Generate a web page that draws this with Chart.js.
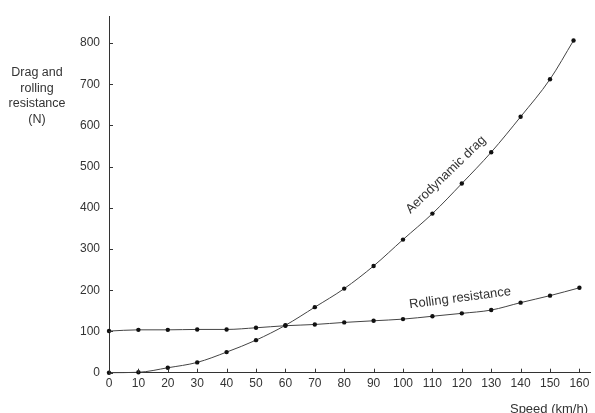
<!DOCTYPE html>
<html>
<head>
<meta charset="utf-8">
<script src="https://cdn.jsdelivr.net/npm/chart.js@4"></script>
<style>
  html, body { margin: 0; padding: 0; background: #fff; }
  #wrap { width: 595px; height: 413px; }
</style>
</head>
<body>
<div id="wrap"><canvas id="myChart" width="595" height="413"></canvas></div>
<script>
// speeds in km/h
const rollSpeed = [0, 10, 20, 30, 40, 50, 60, 70, 80, 90, 100, 110, 120, 130, 140, 150, 160];
const rollForce = [101, 104, 104, 105, 105, 109, 114, 117, 122, 126, 130, 137, 144, 152, 170, 187, 206];
const dragSpeed = [0, 10, 20, 30, 40, 50, 60, 70, 80, 90, 100, 110, 120, 130, 140, 150, 158];
const dragForce = [0, 1, 12, 25, 50, 79, 115, 159, 204, 259, 323, 386, 459, 535, 621, 712, 806];

const FONT = "'Liberation Sans', Arial, sans-serif";
const INK = "#333";

function toPoints(xs, ys) {
  return xs.map((x, i) => ({ x: x, y: ys[i] }));
}

// inward ticks, curve labels and axis titles
const overlay = {
  id: "overlay",
  afterDraw(chart) {
    const ctx = chart.ctx;
    const xs = chart.scales.x;
    const ys = chart.scales.y;
    const area = chart.chartArea;
    ctx.save();
    ctx.strokeStyle = INK;
    ctx.lineWidth = 1;
    ys.ticks.forEach((t) => {
      const py = Math.round(ys.getPixelForValue(t.value)) + 0.5;
      ctx.beginPath();
      ctx.moveTo(area.left, py);
      ctx.lineTo(area.left + 4, py);
      ctx.stroke();
    });
    xs.ticks.forEach((t) => {
      const px = Math.round(xs.getPixelForValue(t.value)) + 0.5;
      ctx.beginPath();
      ctx.moveTo(px, area.bottom);
      ctx.lineTo(px, area.bottom - 4);
      ctx.stroke();
    });

    ctx.fillStyle = INK;
    ctx.textAlign = "center";
    ctx.textBaseline = "middle";

    // curve labels
    ctx.font = "13px " + FONT;
    ctx.save();
    ctx.translate(xs.getPixelForValue(114.6), ys.getPixelForValue(480));
    ctx.rotate(-44 * Math.PI / 180);
    ctx.fillText("Aerodynamic drag", 0, 0);
    ctx.restore();

    ctx.save();
    ctx.translate(xs.getPixelForValue(119.4), ys.getPixelForValue(181));
    ctx.rotate(-7.5 * Math.PI / 180);
    ctx.fillText("Rolling resistance", 0, 0);
    ctx.restore();

    // y title
    ctx.font = "12.5px " + FONT;
    const lines = ["Drag and", "rolling", "resistance", "(N)"];
    lines.forEach((s, i) => ctx.fillText(s, 37, 73 + i * 15.5));

    // x title
    ctx.font = "13px " + FONT;
    ctx.textAlign = "right";
    ctx.fillText("Speed (km/h)", 588, 409);
    ctx.restore();
  }
};

const data = {
  datasets: [
    {
      label: "Aerodynamic drag",
      data: toPoints(dragSpeed, dragForce),
      borderColor: "#444",
      borderWidth: 1,
      pointRadius: 2.2,
      pointBackgroundColor: "#111",
      pointBorderWidth: 0,
      clip: false,
      cubicInterpolationMode: "monotone"
    },
    {
      label: "Rolling resistance",
      data: toPoints(rollSpeed, rollForce),
      borderColor: "#444",
      borderWidth: 1,
      pointRadius: 2.2,
      pointBackgroundColor: "#111",
      pointBorderWidth: 0,
      clip: false,
      cubicInterpolationMode: "monotone"
    }
  ]
};

const config = {
  type: "line",
  data: data,
  plugins: [overlay],
  options: {
    responsive: false,
    animation: false,
    layout: { padding: { left: 0, right: 5, top: 15, bottom: 0 } },
    plugins: {
      legend: { display: false },
      tooltip: { enabled: false }
    },
    scales: {
      x: {
        type: "linear",
        min: 0,
        max: 163.6,
        afterFit: (s) => { s.height = 40.3; },
        border: { color: INK, width: 1 },
        grid: { display: false, drawTicks: false },
        ticks: {
          stepSize: 10,
          includeBounds: false,
          padding: 4,
          maxRotation: 0,
          autoSkip: false,
          color: INK,
          font: { family: FONT, size: 12 }
        }
      },
      y: {
        min: 0,
        max: 865,
        afterFit: (s) => { s.width = 109; },
        border: { color: INK, width: 1 },
        grid: { display: false, drawTicks: false },
        ticks: {
          stepSize: 100,
          includeBounds: false,
          padding: 9,
          color: INK,
          font: { family: FONT, size: 12 }
        }
      }
    }
  }
};

const myChart = new Chart(document.getElementById("myChart"), config);
</script>
</body>
</html>
